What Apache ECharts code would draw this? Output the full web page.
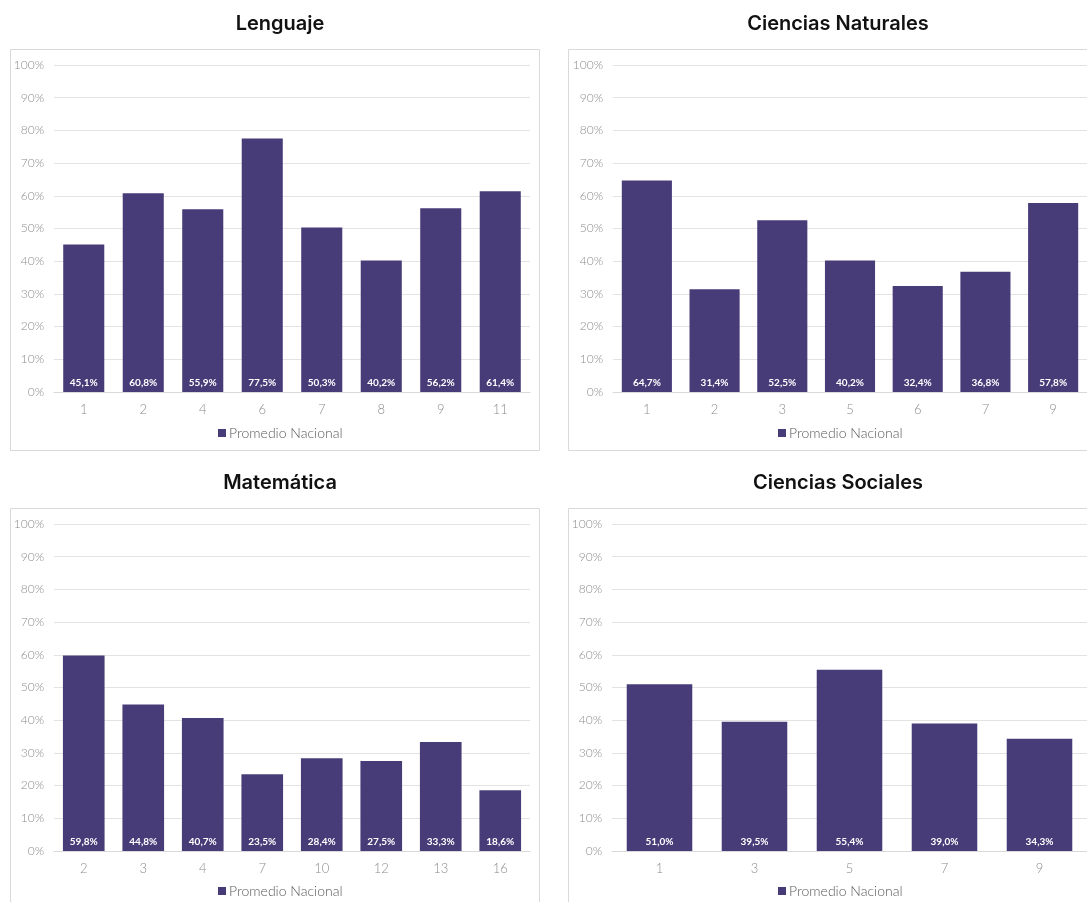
<!DOCTYPE html>
<html>
<head>
<meta charset="utf-8">
<script src="https://cdn.jsdelivr.net/npm/echarts@6/dist/echarts.min.js"></script>
<style>
  html, body { margin: 0; padding: 0; background: #fff; }
  #main { width: 1087px; height: 902px; }
</style>
</head>
<body>
<div id="main"></div>
<script>
// datos por asignatura
var lenguajeCats = ['1', '2', '4', '6', '7', '8', '9', '11'];
var lenguajeVals = [45.1, 60.8, 55.9, 77.5, 50.3, 40.2, 56.2, 61.4];

var cienciasNatCats = ['1', '2', '3', '5', '6', '7', '9'];
var cienciasNatVals = [64.7, 31.4, 52.5, 40.2, 32.4, 36.8, 57.8];

var matematicaCats = ['2', '3', '4', '7', '10', '12', '13', '16'];
var matematicaVals = [59.8, 44.8, 40.7, 23.5, 28.4, 27.5, 33.3, 18.6];

var cienciasSocCats = ['1', '3', '5', '7', '9'];
var cienciasSocVals = [51.0, 39.5, 55.4, 39.0, 34.3];

var serieNombre = 'Promedio Nacional';
var color = '#483c78';
var fuente = 'Lato, "Noto Sans", sans-serif';
var fuenteTitulo = 'Inter, "Noto Sans", sans-serif';

var myChart = echarts.init(document.getElementById('main'));

var paneles = [
    { titulo: 'Lenguaje', cats: lenguajeCats, vals: lenguajeVals, tx: 275, ty: 9,
      grid: { left: 54, top: 65, width: 476, height: 327 }, gap: '31%', legTop: 421, legLeft: 275,
      box: { x: 10.5, y: 49.5, width: 529, height: 401 } },
    { titulo: 'Ciencias Naturales', cats: cienciasNatCats, vals: cienciasNatVals, tx: 833, ty: 9,
      grid: { left: 613, top: 65, width: 475, height: 327 }, gap: '26%', legTop: 421, legLeft: 835,
      box: { x: 568.5, y: 49.5, width: 530, height: 401 } },
    { titulo: 'Matemática', cats: matematicaCats, vals: matematicaVals, tx: 275, ty: 468,
      grid: { left: 54, top: 524, width: 476, height: 327 }, gap: '30%', legTop: 879, legLeft: 275,
      box: { x: 10.5, y: 508.5, width: 529, height: 410 } },
    { titulo: 'Ciencias Sociales', cats: cienciasSocCats, vals: cienciasSocVals, tx: 833, ty: 468,
      grid: { left: 612, top: 524, width: 477, height: 327 }, gap: '31%', legTop: 879, legLeft: 835,
      box: { x: 568.5, y: 508.5, width: 530, height: 410 } }
];

var option = {
    animation: false,
    backgroundColor: '#fff',
    title: [], grid: [], xAxis: [], yAxis: [], series: [], legend: [], graphic: []
};

paneles.forEach(function (p, i) {
    option.graphic.push({
        type: 'rect', shape: p.box, z: -1,
        style: { fill: 'none', stroke: '#d9d9d9', lineWidth: 1 }
    });
    option.title.push({
        text: p.titulo, left: p.tx, top: p.ty, textAlign: 'center',
        textStyle: { fontFamily: fuenteTitulo, fontSize: 20, fontWeight: 600, color: '#111' }
    });
    option.grid.push(p.grid);
    option.xAxis.push({
        type: 'category', gridIndex: i, data: p.cats,
        axisTick: { show: false },
        axisLine: { lineStyle: { color: '#d9d9d9' } },
        axisLabel: { color: '#8c8c8c', fontSize: 13, fontFamily: fuente, fontWeight: 300, margin: 11 }
    });
    option.yAxis.push({
        type: 'value', gridIndex: i, min: 0, max: 100, interval: 10,
        axisLabel: { formatter: '{value}%', color: '#8c8c8c', fontSize: 12, fontFamily: fuente, fontWeight: 300, margin: 10 },
        splitLine: { lineStyle: { color: '#e3e3e3' } },
        axisLine: { show: false }, axisTick: { show: false }
    });
    option.series.push({
        name: serieNombre, type: 'bar', xAxisIndex: i, yAxisIndex: i,
        data: p.vals, barCategoryGap: p.gap,
        itemStyle: { color: color },
        label: {
            show: true, position: 'insideBottom', distance: 4,
            color: '#fff', fontSize: 10, fontWeight: 'bold', fontFamily: fuente,
            formatter: function (d) { return d.value.toFixed(1).replace('.', ',') + '%'; }
        }
    });
    option.legend.push({
        data: [serieNombre], left: p.legLeft - 62, top: p.legTop,
        itemWidth: 8, itemHeight: 8, itemGap: 4,
        icon: 'rect',
        textStyle: { color: '#595959', fontSize: 14, fontFamily: fuente, fontWeight: 300, padding: [0, 0, 0, -2] }
    });
});

myChart.setOption(option);
</script>
</body>
</html>
